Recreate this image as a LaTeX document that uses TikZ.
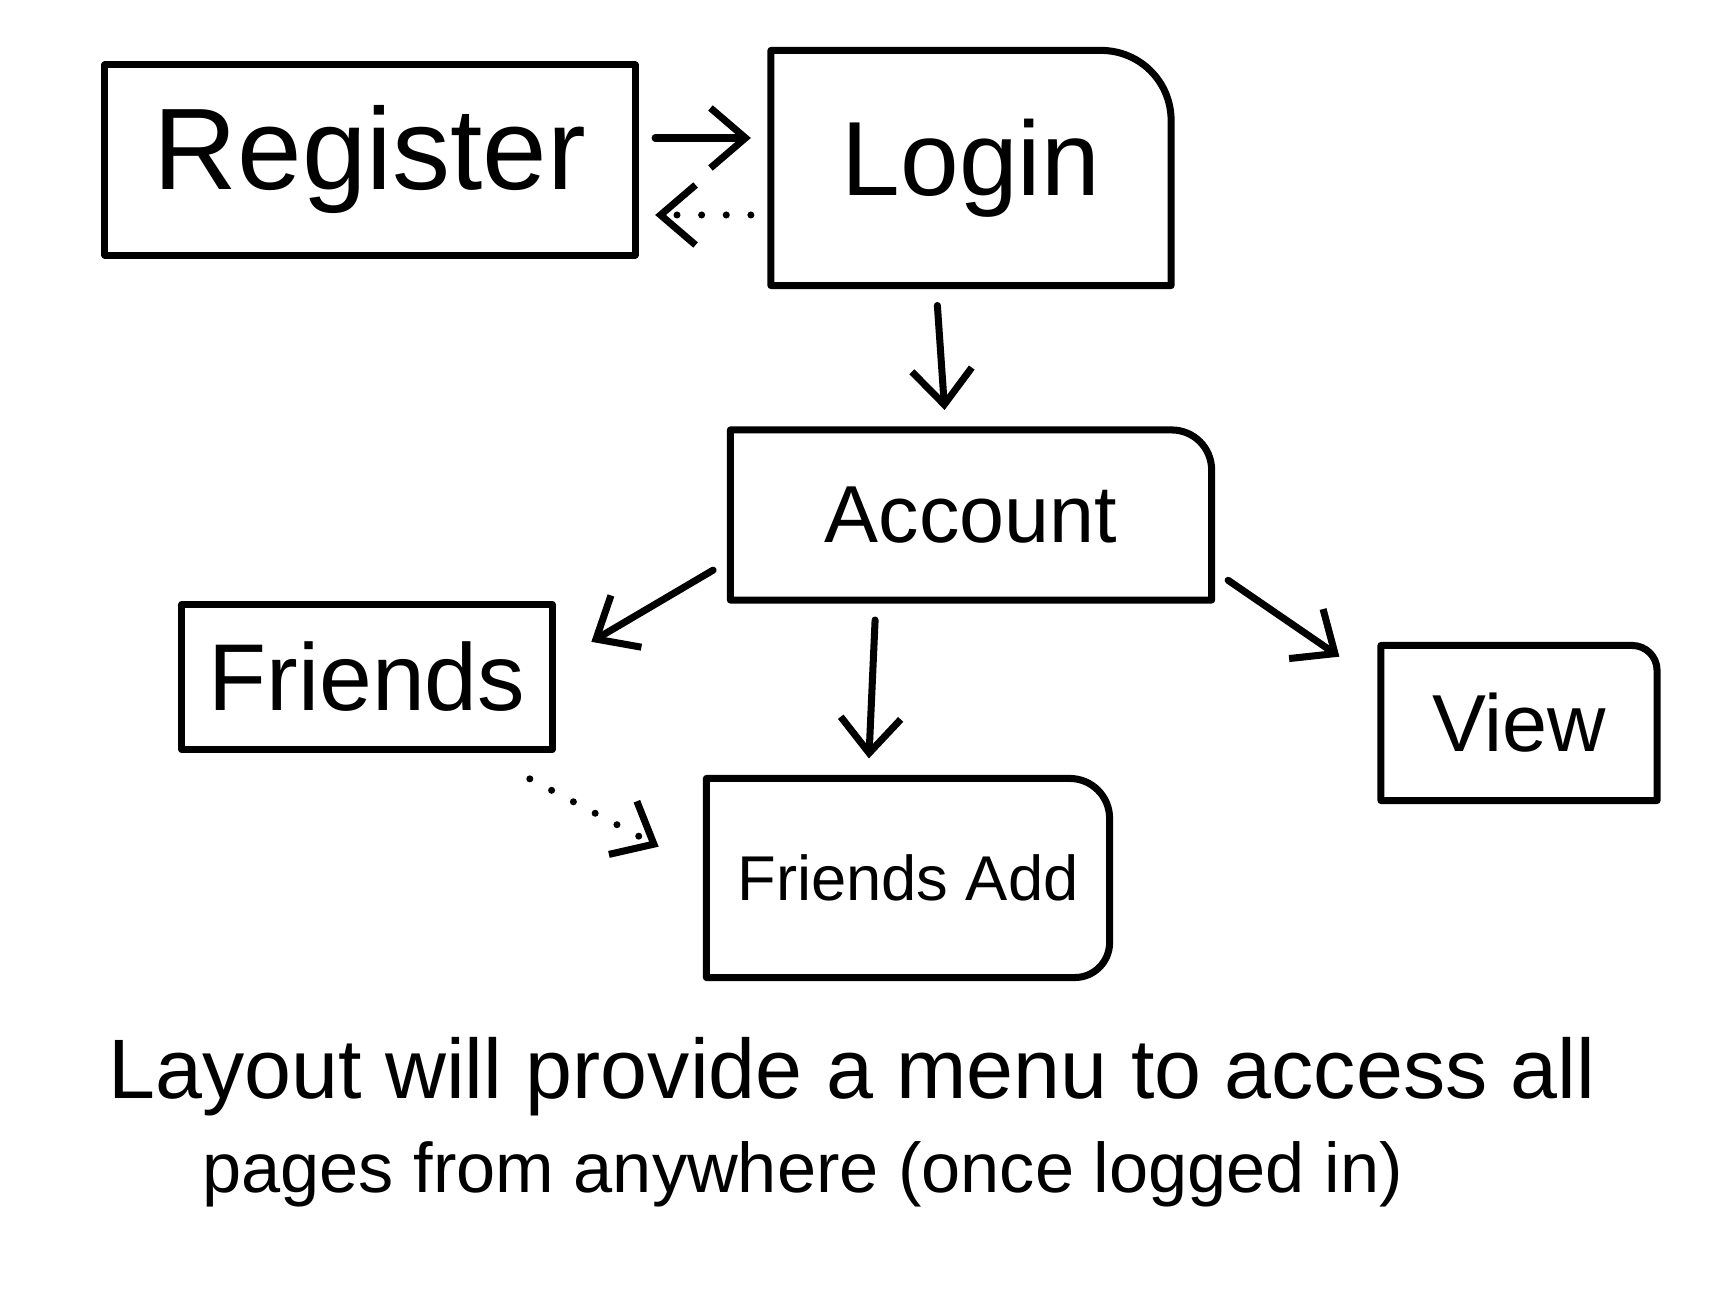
\documentclass[tikz,border=0pt]{standalone}
\usepackage{fontspec}
\setmainfont{Liberation Sans}
\usetikzlibrary{arrows.meta,positioning,calc}

\begin{document}
\begin{tikzpicture}[x=0.01cm,y=-0.01cm,line width=2pt,line cap=round,line join=round,>={Straight Barb[length=3.5mm,width=6mm]},
page/.style={inner sep=0pt,outer sep=0pt,align=center},
link/.style={->,shorten <=2mm,shorten >=2mm},
back/.style={->,dash pattern=on 0pt off 7pt,shorten <=2mm,shorten >=2mm}]
\useasboundingbox (0,0) rectangle (1732,1304);
% pages
\node[page,draw,minimum width=5.3cm,minimum height=1.9cm,font=\fontsize{33}{36}\selectfont](reg) at (370,160){Register};
\node[page,minimum width=4cm,minimum height=2.35cm,font=\fontsize{30}{34}\selectfont](login) at (971,168){Login};
\node[page,minimum width=4.81cm,minimum height=1.7cm,font=\fontsize{23}{26}\selectfont](acc) at (971,515){Account};
\node[page,draw,minimum width=3.7cm,minimum height=1.45cm,font=\fontsize{27}{30}\selectfont](fr) at (367,677){Friends};
\node[page,minimum width=4.03cm,minimum height=1.99cm,font=\fontsize{18}{21}\selectfont](fa) at (908,878){Friends Add};
\node[page,minimum width=2.76cm,minimum height=1.55cm,font=\fontsize{23}{26}\selectfont](view) at (1519,723){View};
% outlines with soft corners
\draw (login.south west) |- ($(login.north east)+(-70,0)$) to[out=0,in=90] ($(login.north east)+(0,70)$) |- (login.south west) -- cycle;
\draw (acc.south west) |- ($(acc.north east)+(-40,0)$) to[out=0,in=90] ($(acc.north east)+(0,40)$) |- (acc.south west) -- cycle;
\draw (fa.south west) -- (fa.north west) -- ($(fa.north east)+(-40,0)$) to[out=0,in=90] ($(fa.north east)+(0,40)$) -- ($(fa.south east)+(0,-35)$) to[out=-90,in=0] ($(fa.south east)+(-35,0)$) -- cycle;
\draw (view.south west) |- ($(view.north east)+(-25,0)$) to[out=0,in=90] ($(view.north east)+(0,25)$) |- (view.south west) -- cycle;
% connectors
\draw[link] ($(reg.east)+(0,-22)$) -- ($(reg.east -| login.west)+(0,-22)$);
\draw[back] ($(login.west)+(0,47)$) -- ($(login.west -| reg.east)+(0,47)$);
\draw[link] ($(login.south)+(-35,0)$) -- ($(acc.north)+(-25,0)$);
\draw[link] ($(acc.west)+(0,45)$) -- ($(fr.east)+(22,-25)$);
\draw[link] ($(acc.south)+(-95,0)$) -- ($(fa.north)+(-40,0)$);
\draw[link] ($(acc.east)+(0,54)$) -- ($(view.west)+(-25,-55)$);
\draw[back] ($(fr.south east)+(-40,20)$) -- ($(fa.west)+(-30,-22)$);
% note
\node[anchor=base west,inner sep=0pt,font=\fontsize{24}{28}\selectfont](note1) at (105,1099){Layout will provide a menu to access all};
\node[anchor=base west,inner sep=0pt,font=\fontsize{20}{24}\selectfont](note2) at (199,1193){pages from anywhere (once logged in)};
\end{tikzpicture}
\end{document}
